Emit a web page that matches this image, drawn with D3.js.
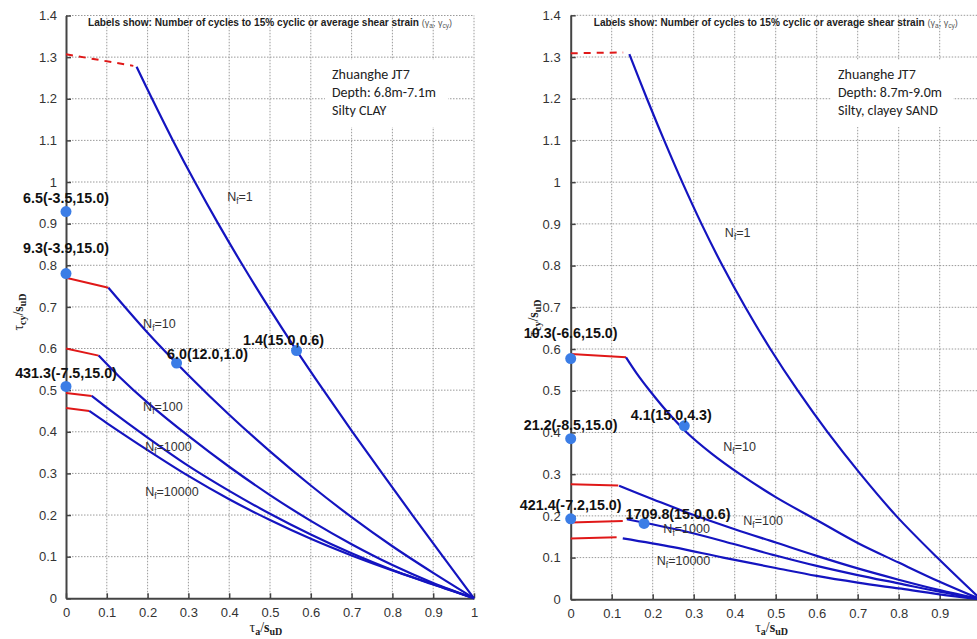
<!DOCTYPE html>
<html><head><meta charset="utf-8">
<script src="https://cdn.jsdelivr.net/npm/d3@7"></script>
<style>body{margin:0;background:#fff;} svg{display:block;}</style>
</head><body>
<svg id="chart" width="977" height="639"></svg>
<script>
// ---------------- data ----------------
const xTickValues = [0,0.1,0.2,0.3,0.4,0.5,0.6,0.7,0.8,0.9,1];
const xTickLabels = ["0","0.1","0.2","0.3","0.4","0.5","0.6","0.7","0.8","0.9","1"];
const yTickValues = [0,0.1,0.2,0.3,0.4,0.5,0.6,0.7,0.8,0.9,1,1.1,1.2,1.3,1.4];
const yTickLabels = ["0","0.1","0.2","0.3","0.4","0.5","0.6","0.7","0.8","0.9","1","1.1","1.2","1.3","1.4"];
const nfLevels = ["1","10","100","1000","10000"];
const headerText = "Labels show: Number of cycles to 15% cyclic or average shear strain ";

// Left panel: Silty CLAY
const clayInfo = ["Zhuanghe JT7","Depth: 6.8m-7.1m","Silty CLAY"];
const clayRed1 = [[0,1.307],[0.165,1.279]];
const clayRed10 = [[0,0.770],[0.104,0.746]];
const clayRed100 = [[0,0.600],[0.080,0.583]];
const clayRed1000 = [[0,0.493],[0.063,0.486]];
const clayRed10000 = [[0,0.457],[0.057,0.450]];
const clayBlue1 = [[0.173,1.277],[0.211,1.2],[0.262,1.1],[0.316,1.0],[0.373,0.9],[0.433,0.8],[0.496,0.7],[0.562,0.6],[0.631,0.5],[0.702,0.4],[0.775,0.3],[0.849,0.2],[0.924,0.1],[1,0]];
const clayBlue10 = [[0.104,0.746],[0.2,0.638],[0.3,0.536],[0.4,0.441],[0.5,0.353],[0.6,0.271],[0.7,0.195],[0.8,0.125],[0.9,0.061],[1,0]];
const clayBlue100 = [[0.08,0.583],[0.13,0.533],[0.2,0.47],[0.3,0.39],[0.4,0.316],[0.5,0.248],[0.6,0.186],[0.7,0.13],[0.8,0.08],[0.9,0.037],[1,0]];
const clayBlue1000 = [[0.063,0.486],[0.1,0.458],[0.2,0.386],[0.3,0.318],[0.4,0.258],[0.5,0.203],[0.6,0.153],[0.7,0.108],[0.8,0.068],[0.9,0.033],[1,0]];
const clayBlue10000 = [[0.057,0.45],[0.1,0.421],[0.2,0.356],[0.3,0.294],[0.4,0.238],[0.5,0.188],[0.6,0.143],[0.7,0.103],[0.8,0.067],[0.9,0.034],[1,0]];
const clayPointX = [0,0,0,0.271,0.565];
const clayPointY = [0.929,0.78,0.509,0.565,0.595];
const clayPointLabels = ["6.5(-3.5,15.0)","9.3(-3.9,15.0)","431.3(-7.5,15.0)","6.0(12.0,1.0)","1.4(15.0,0.6)"];
const clayNfLabelX = [0.395,0.189,0.189,0.194,0.194];
const clayNfLabelY = [0.955,0.650,0.450,0.354,0.246];

// Right panel: Silty, clayey SAND
const sandInfo = ["Zhuanghe JT7","Depth: 8.7m-9.0m","Silty, clayey SAND"];
const sandRed1 = [[0,1.309],[0.128,1.311]];
const sandRed10 = [[0,0.588],[0.135,0.580]];
const sandRed100 = [[0,0.276],[0.116,0.273]];
const sandRed1000 = [[0,0.184],[0.127,0.188]];
const sandRed10000 = [[0,0.146],[0.112,0.149]];
const sandBlue1 = [[0.143,1.307],[0.186,1.2],[0.228,1.1],[0.272,1.0],[0.319,0.9],[0.37,0.8],[0.426,0.7],[0.487,0.6],[0.554,0.5],[0.627,0.4],[0.707,0.3],[0.794,0.2],[0.894,0.1],[1,0]];
const sandBlue10 = [[0.135,0.58],[0.16,0.543],[0.193,0.5],[0.235,0.45],[0.283,0.4],[0.343,0.35],[0.413,0.3],[0.5,0.245],[0.6,0.19],[0.7,0.135],[0.8,0.088],[0.9,0.042],[1,0]];
const sandBlue100 = [[0.118,0.272],[0.2,0.24],[0.3,0.202],[0.4,0.168],[0.5,0.136],[0.6,0.104],[0.7,0.074],[0.8,0.047],[0.9,0.022],[1,0]];
const sandBlue1000 = [[0.137,0.192],[0.283,0.162],[0.4,0.132],[0.5,0.105],[0.6,0.08],[0.7,0.058],[0.8,0.038],[0.9,0.018],[1,0]];
const sandBlue10000 = [[0.127,0.146],[0.25,0.125],[0.372,0.1],[0.5,0.075],[0.6,0.056],[0.7,0.04],[0.8,0.026],[0.9,0.012],[1,0]];
const sandPointX = [0,0,0.277,0,0.179];
const sandPointY = [0.577,0.385,0.416,0.193,0.182];
const sandPointLabels = ["10.3(-6.6,15.0)","21.2(-8.5,15.0)","4.1(15.0,4.3)","421.4(-7.2,15.0)","1709.8(15.0,0.6)"];
const sandNfLabelX = [0.376,0.372,0.421,0.226,0.210];
const sandNfLabelY = [0.869,0.356,0.178,0.159,0.082];

// ---------------- layout (pixels) ----------------
const panels = [
  {x0:66, x1:474, yb:598.3, yt:15.5, info:clayInfo, infoBox:[325,60,123,67],
   red:[clayRed1,clayRed10,clayRed100,clayRed1000,clayRed10000],
   blue:[clayBlue1,clayBlue10,clayBlue100,clayBlue1000,clayBlue10000],
   px:clayPointX, py:clayPointY, plab:clayPointLabels,
   labOff:[[0,-14],[0,-26],[0,-14],[31,-9],[-13,-11]],
   nfx:clayNfLabelX, nfy:clayNfLabelY, yTitleX:18, yTitleY:312, tickPad:9},
  {x0:570.7, x1:980.7, yb:599.3, yt:15.3, info:sandInfo, infoBox:[831,60,122,67],
   red:[sandRed1,sandRed10,sandRed100,sandRed1000,sandRed10000],
   blue:[sandBlue1,sandBlue10,sandBlue100,sandBlue1000,sandBlue10000],
   px:sandPointX, py:sandPointY, plab:sandPointLabels,
   labOff:[[0,-26],[0,-14],[-13,-11],[0,-14],[34,-10]],
   nfx:sandNfLabelX, nfy:sandNfLabelY, yTitleX:533, yTitleY:318, tickPad:10}
];

const svg = d3.select("#chart");
svg.append("rect").attr("width",977).attr("height",639).attr("fill","#fff");

panels.forEach(p => {
  const g = svg.append("g");
  const x = d3.scaleLinear().domain([0,1]).range([p.x0,p.x1]);
  const y = d3.scaleLinear().domain([0,1.4]).range([p.yb,p.yt]);

  // grid (dotted)
  g.selectAll(".vg").data(xTickValues.slice(1)).join("line")
    .attr("x1",d=>x(d)).attr("x2",d=>x(d)).attr("y1",y(0)).attr("y2",y(1.4))
    .attr("stroke","#9a9a9a").attr("stroke-width",1).attr("stroke-dasharray","1.5,1.5");
  g.selectAll(".hg").data(yTickValues.slice(1)).join("line")
    .attr("x1",x(0)).attr("x2",x(1)).attr("y1",d=>y(d)).attr("y2",d=>y(d))
    .attr("stroke","#9a9a9a").attr("stroke-width",1).attr("stroke-dasharray","1.5,1.5");

  // info box
  g.append("rect").attr("x",p.infoBox[0]).attr("y",p.infoBox[1])
    .attr("width",p.infoBox[2]).attr("height",p.infoBox[3]).attr("fill","#fff");
  const info = g.append("text").attr("x",p.infoBox[0]+7).attr("y",79)
    .attr("font-family","Carlito, Lato, 'Open Sans', sans-serif").attr("font-size","14px").attr("fill","#222");
  p.info.forEach((t,i)=> info.append("tspan").attr("x",p.infoBox[0]+7).attr("dy", i===0?0:18).text(t));

  // header
  const h = g.append("text").attr("x",(x(0)+x(1))/2).attr("y",26).attr("text-anchor","middle")
    .attr("font-family","'Liberation Sans', Arial, sans-serif").attr("font-weight","bold")
    .attr("font-size","10.1px").attr("fill","#222");
  h.append("tspan").text(headerText);
  const hs = h.append("tspan").attr("font-size","9px").attr("font-weight","normal").attr("fill","#555");
  hs.append("tspan").text("(γ");
  hs.append("tspan").attr("font-size","6.5px").attr("dy",1.5).text("a");
  hs.append("tspan").attr("dy",-1.5).text("; γ");
  hs.append("tspan").attr("font-size","6.5px").attr("dy",1.5).text("cy");
  hs.append("tspan").attr("dy",-1.5).text(")");

  // axes
  const ax = g.append("g").attr("transform",`translate(0,${y(0)})`)
    .call(d3.axisBottom(x).tickValues(xTickValues).tickFormat((d,i)=>xTickLabels[i]).tickSizeInner(-5).tickSizeOuter(0).tickPadding(9));
  const ay = g.append("g").attr("transform",`translate(${x(0)},0)`)
    .call(d3.axisLeft(y).tickValues(yTickValues).tickFormat((d,i)=>yTickLabels[i]).tickSizeInner(-5).tickSizeOuter(0).tickPadding(p.tickPad));
  [ax,ay].forEach(a=>{
    a.select(".domain").attr("stroke","#444").attr("stroke-width",2);
    a.selectAll(".tick line").attr("stroke","#444").attr("stroke-width",1.5);
    a.selectAll(".tick text").attr("font-family","'Liberation Sans', Arial, sans-serif").attr("font-size","13px").attr("fill","#333");
  });

  // axis titles
  const xt = g.append("text").attr("x",(x(0)+x(0.97))/2+2).attr("y",632).attr("text-anchor","middle")
    .attr("font-family","'Liberation Serif', 'Times New Roman', serif").attr("font-size","14px").attr("fill","#222");
  xt.append("tspan").text("τ");
  xt.append("tspan").attr("font-size","10px").attr("dy",3).attr("font-weight","bold").text("a");
  xt.append("tspan").attr("dy",-3).text("/");
  xt.append("tspan").attr("font-weight","bold").text("s");
  xt.append("tspan").attr("font-size","10px").attr("dy",3).attr("font-weight","bold").text("uD");

  const yt = g.append("text").attr("transform",`translate(${p.yTitleX},${p.yTitleY}) rotate(-90)`)
    .attr("text-anchor","middle").attr("dy","0.35em")
    .attr("font-family","'Liberation Serif', 'Times New Roman', serif").attr("font-size","14px").attr("fill","#222");
  yt.append("tspan").text("τ");
  yt.append("tspan").attr("font-size","10px").attr("dy",3).attr("font-weight","bold").text("cy");
  yt.append("tspan").attr("dy",-3).text("/");
  yt.append("tspan").attr("font-weight","bold").text("s");
  yt.append("tspan").attr("font-size","10px").attr("dy",3).attr("font-weight","bold").text("uD");

  // curves
  const line = d3.line().x(d=>x(d[0])).y(d=>y(d[1])).curve(d3.curveCatmullRom.alpha(0.5));
  const seg = d3.line().x(d=>x(d[0])).y(d=>y(d[1]));
  p.red.forEach((r,i)=>{
    g.append("path").attr("d",seg(r)).attr("fill","none").attr("stroke","#e01818")
      .attr("stroke-width",2).attr("stroke-dasharray", i===0 ? "7,6" : null);
  });
  p.blue.forEach(b=>{
    g.append("path").attr("d",line(b)).attr("fill","none").attr("stroke","#1414c0").attr("stroke-width",2.2);
  });

  // Nf labels
  nfLevels.forEach((lv,i)=>{
    const t = g.append("text").attr("x",x(p.nfx[i])).attr("y",y(p.nfy[i]))
      .attr("font-family","'Liberation Sans', Arial, sans-serif").attr("font-size","12.5px").attr("fill","#333");
    t.append("tspan").text("N");
    t.append("tspan").attr("font-size","8.5px").attr("dy",3).text("f");
    t.append("tspan").attr("dy",-3).text("=" + lv);
  });

  // points + labels
  p.px.forEach((v,i)=>{
    g.append("circle").attr("cx",x(v)).attr("cy",y(p.py[i])).attr("r",5.5).attr("fill","#3b7de6");
    g.append("text").attr("x",x(v)+p.labOff[i][0]).attr("y",y(p.py[i])+p.labOff[i][1])
      .attr("dy","0.36em").attr("text-anchor","middle")
      .attr("font-family","'Liberation Sans', Arial, sans-serif").attr("font-weight","bold")
      .attr("font-size","14.3px").attr("fill","#111").text(p.plab[i]);
  });
});
</script>
</body></html>
